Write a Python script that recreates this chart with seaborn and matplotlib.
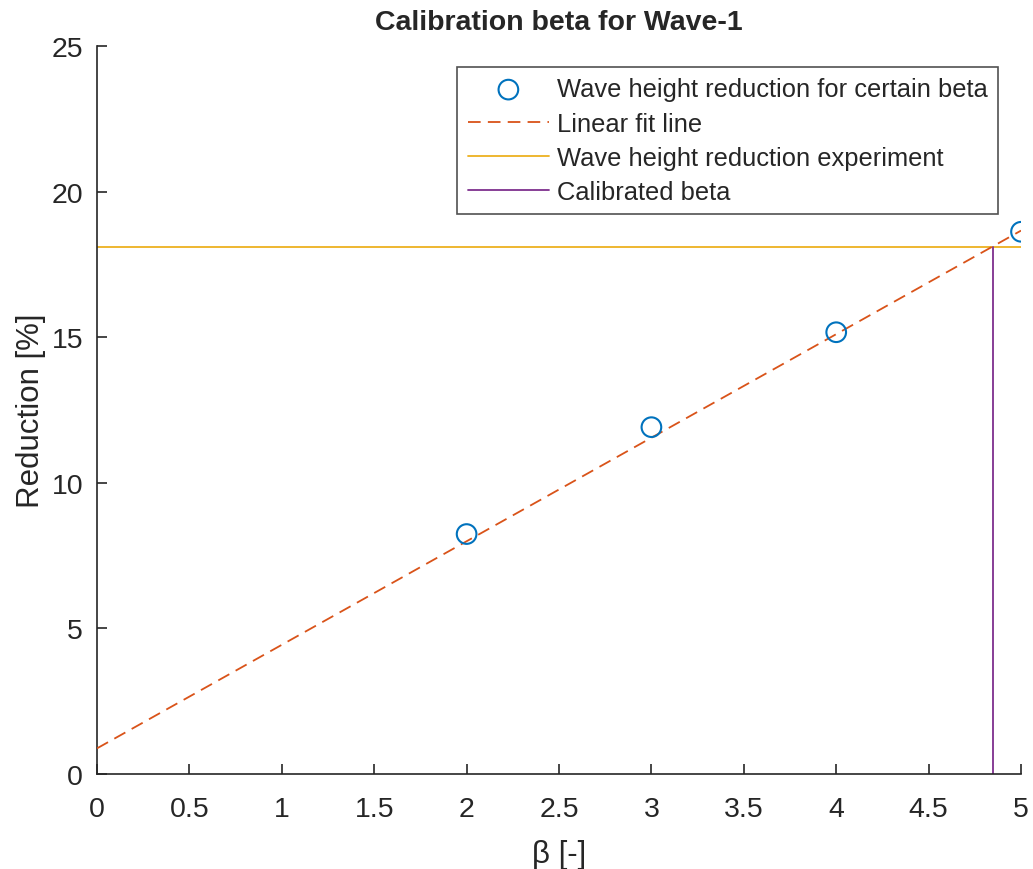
import pandas as pd
import matplotlib.pyplot as plt
import seaborn as sns

# Values
beta = [2, 3, 4, 5]
reduction = [8.24, 11.91, 15.17, 18.62]
fit_beta = [0, 5]
fit_reduction = [0.88, 18.66]
experiment_reduction = 18.11
calibrated_beta = 4.847

points = pd.DataFrame({"beta": beta, "reduction": reduction})
fit = pd.DataFrame({"beta": fit_beta, "reduction": fit_reduction})

sns.set_style("white")
plt.rcParams["font.family"] = ["Liberation Sans", "DejaVu Sans"]

fig = plt.figure(figsize=(10.33, 8.7), dpi=100)
ax = fig.add_axes([0.0939, 0.1092, 0.8945, 0.8368])

blue, orange, yellow, purple = "#0072BD", "#D95319", "#EDB120", "#7E2F8E"
dark = "#262626"

sns.scatterplot(data=points, x="beta", y="reduction", ax=ax, marker="o",
                s=200, facecolor="none", edgecolor=blue, linewidth=1.5,
                label="Wave height reduction for certain beta", zorder=4)
sns.lineplot(data=fit, x="beta", y="reduction", ax=ax, color=orange,
             linewidth=1.3, label="Linear fit line", zorder=3,
             estimator=None, sort=False)
ax.lines[-1].set_dashes((7, 4))
sns.lineplot(x=[0, 5], y=[experiment_reduction, experiment_reduction], ax=ax,
             color=yellow, linewidth=1.3, label="Wave height reduction experiment",
             zorder=2, estimator=None, sort=False)
sns.lineplot(x=[calibrated_beta, calibrated_beta], y=[0, experiment_reduction], ax=ax,
             color=purple, linewidth=1.3, label="Calibrated beta", zorder=2,
             estimator=None, sort=False, orient="y")

ax.set_xlim(0, 5)
ax.set_ylim(0, 25)
ax.set_xticks([i * 0.5 for i in range(11)])
ax.set_xticklabels(["0", "0.5", "1", "1.5", "2", "2.5", "3", "3.5", "4", "4.5", "5"])
ax.set_yticks([0, 5, 10, 15, 20, 25])

for side in ["top", "right"]:
    ax.spines[side].set_visible(False)
for side in ["left", "bottom"]:
    ax.spines[side].set_color(dark)
    ax.spines[side].set_linewidth(1.2)
ax.tick_params(direction="in", length=7, width=1.2, colors=dark, labelsize=20.5,
               bottom=True, left=True)
ax.tick_params(axis="x", pad=16)
ax.tick_params(axis="y", pad=10)

ax.set_xlabel("β [-]", fontsize=22.5, color=dark, labelpad=12)
ax.set_ylabel("Reduction [%]", fontsize=22.5, color=dark, labelpad=4)
ax.set_title("Calibration beta for Wave-1", fontsize=20.5, fontweight="bold", pad=12)

leg = ax.legend(loc="upper right", bbox_to_anchor=(0.975, 0.971), fontsize=18.4,
                frameon=True, fancybox=False, edgecolor=dark, handlelength=3.2,
                borderpad=0.4, labelspacing=0.4, handletextpad=0.3,
                borderaxespad=0)
leg.get_frame().set_linewidth(1.2)

plt.savefig("out.png", dpi=100)
